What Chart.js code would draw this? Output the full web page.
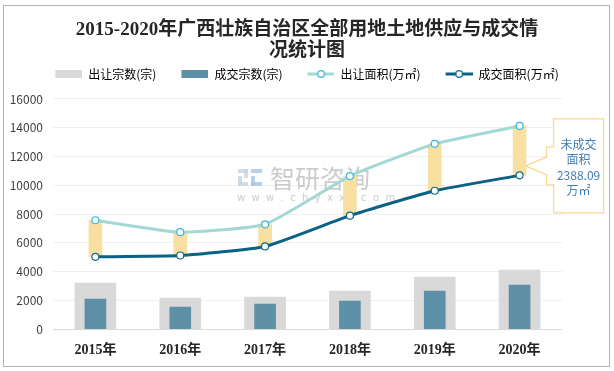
<!DOCTYPE html>
<html>
<head>
<meta charset="utf-8">
<script src="https://cdn.jsdelivr.net/npm/chart.js@4.4.0/dist/chart.umd.min.js"></script>
<style>
	html, body { margin: 0; padding: 0; background: #fff; }
	#wrap { width: 614px; height: 371px; }
</style>
</head>
<body>
<div id="wrap"><canvas id="myChart" width="614" height="371"></canvas></div>
<script>
const years = ["2015年", "2016年", "2017年", "2018年", "2019年", "2020年"]
const supplyCount = [3210, 2170, 2240, 2650, 3620, 4110]     // 出让宗数(宗)
const dealCount = [2100, 1540, 1750, 1960, 2650, 3070]       // 成交宗数(宗)
const supplyArea = [7570, 6740, 7290, 10640, 12880, 14125]   // 出让面积(万㎡)
const dealArea = [5030, 5120, 5750, 7890, 9620, 10690]       // 成交面积(万㎡)
const calloutLines = ["未成交", "面积", "2388.09", "万㎡"]

const cjk = "'Noto Sans CJK SC', 'Noto Sans', sans-serif"
const serif = "'Liberation Serif', 'Noto Sans CJK SC', serif"

// legend swatches: blank lead-in (item spacing), then bar rectangle or line-with-circle
const lead = 19
function swatch(kind, color, pointBorder) {
	const c = document.createElement("canvas")
	c.width = lead + 27
	c.height = 10
	const g = c.getContext("2d")
	if (kind === "bar") {
		g.fillStyle = color
		g.fillRect(lead, 1, 27, 8)
	} else {
		g.strokeStyle = color
		g.lineWidth = 3
		g.beginPath()
		g.moveTo(lead, 5)
		g.lineTo(lead + 27, 5)
		g.stroke()
		g.fillStyle = "#fff"
		g.strokeStyle = pointBorder
		g.lineWidth = 1.2
		g.beginPath()
		g.arc(lead + 13.5, 5, 3.3, 0, Math.PI * 2)
		g.fill()
		g.stroke()
	}
	return c
}

const frame = {
	id: "frame",
	beforeDraw(chart) {
		const ctx = chart.ctx
		ctx.save()
		ctx.strokeStyle = "#b4b4b4"
		ctx.lineWidth = 1
		ctx.strokeRect(3.5, 5.5, 606, 361)
		ctx.restore()
	}
}

// extra room under the legend, and re-centre the row without the first lead-in
const legendGap = {
	id: "legendGap",
	beforeLayout(chart) {
		const lg = chart.legend
		if (lg && !lg._gapPatched) {
			const fit = lg.fit
			lg.fit = function () {
				fit.call(this)
				this.height += 9
				if (this.lineWidths && this.lineWidths.length) this.lineWidths[0] += lead
			}
			lg._gapPatched = true
		}
	}
}

const watermark = {
	id: "watermark",
	beforeDatasetsDraw(chart) {
		const ctx = chart.ctx
		ctx.save()
		ctx.fillStyle = "rgba(200, 212, 225, 0.8)"
		ctx.fillRect(238, 169, 10, 4)
		ctx.fillRect(244, 169, 4, 9)
		ctx.fillRect(238, 176, 4, 10)
		ctx.fillRect(238, 182, 10, 4)
		ctx.fillStyle = "rgba(165, 198, 228, 0.8)"
		ctx.fillRect(251, 169, 11, 4)
		ctx.fillRect(251, 176, 4, 10)
		ctx.fillRect(251, 182, 11, 4)
		ctx.fillStyle = "rgba(175, 175, 175, 0.65)"
		ctx.font = "25px " + cjk
		ctx.textBaseline = "middle"
		ctx.fillText("智研咨询", 270, 178)
		ctx.font = "10px 'DejaVu Sans', sans-serif"
		ctx.fillText("w  w  w  .  c  h  y  x  x  .  c  o  m", 237, 198)
		ctx.restore()
	}
}

const callout = {
	id: "callout",
	afterDatasetsDraw(chart) {
		const xs = chart.scales.x
		const ys = chart.scales.y
		const i = years.length - 1
		const tx = xs.getPixelForValue(i) + 6
		const ty = ys.getPixelForValue(dealArea[i] + (supplyArea[i] - dealArea[i]) * 0.19)
		const left = tx + 28, right = tx + 78
		const ctx = chart.ctx
		ctx.save()
		ctx.beginPath()
		ctx.moveTo(left, ty - 47)
		ctx.lineTo(right, ty - 47)
		ctx.lineTo(right, ty + 47)
		ctx.lineTo(left, ty + 47)
		ctx.lineTo(left, ty + 19)
		ctx.lineTo(tx + 21, ty + 19)
		ctx.lineTo(tx + 21, ty + 9)
		ctx.lineTo(tx, ty)
		ctx.lineTo(tx + 21, ty - 9)
		ctx.lineTo(tx + 21, ty - 19)
		ctx.lineTo(left, ty - 19)
		ctx.closePath()
		ctx.fillStyle = "#fff"
		ctx.fill()
		ctx.strokeStyle = "#fbd98f"
		ctx.lineWidth = 1.3
		ctx.stroke()
		ctx.fillStyle = "#3f7db3"
		ctx.font = "12px " + cjk
		ctx.textAlign = "center"
		ctx.textBaseline = "middle"
		const offs = [-22, -7, 9, 24]
		calloutLines.forEach((t, k) => ctx.fillText(t, (left + right) / 2, ty + offs[k]))
		ctx.restore()
	}
}

new Chart("myChart", {
	type: "bar",
	data: {
		labels: years,
		datasets: [
			{
				label: "出让宗数(宗)",
				data: supplyCount,
				backgroundColor: "#d9d9d9",
				barThickness: 41,
				grouped: false,
				order: 4,
				legendSwatch: swatch("bar", "#d9d9d9")
			},
			{
				label: "成交宗数(宗)",
				data: dealCount,
				backgroundColor: "#5e91a8",
				barThickness: 21,
				grouped: false,
				order: 3,
				legendSwatch: swatch("bar", "#5e91a8")
			},
			{
				type: "line",
				label: "出让面积(万㎡)",
				data: supplyArea,
				borderColor: "#a2d9d4",
				borderWidth: 3,
				tension: 0.15,
				pointRadius: 3.5,
				pointBackgroundColor: "#fff",
				pointBorderColor: "#3ab4e2",
				pointBorderWidth: 1.2,
				order: 1,
				legendSwatch: swatch("line", "#a2d9d4", "#3ab4e2")
			},
			{
				type: "line",
				label: "成交面积(万㎡)",
				data: dealArea,
				borderColor: "#0b6286",
				borderWidth: 3,
				tension: 0.15,
				pointRadius: 3.5,
				pointBackgroundColor: "#fff",
				pointBorderColor: "#11698a",
				pointBorderWidth: 1.2,
				order: 0,
				legendSwatch: swatch("line", "#0b6286", "#11698a")
			},
			{
				label: "gap",
				data: dealArea.map((v, i) => [v, supplyArea[i]]),
				backgroundColor: "#f8e0a2",
				barThickness: 13,
				grouped: false,
				order: 2
			}
		]
	},
	options: {
		responsive: false,
		animation: false,
		layout: { padding: { top: 11, right: 0, bottom: 7, left: 0 } },
		plugins: {
			title: {
				display: true,
				text: ["2015-2020年广西壮族自治区全部用地土地供应与成交情", "况统计图"],
				color: "#262626",
				font: { family: serif, size: 19, weight: "bold", lineHeight: 1.13 },
				padding: { top: 8, bottom: 0 }
			},
			legend: {
				display: true,
				labels: {
					usePointStyle: true,
					pointStyleWidth: lead + 27,
					boxHeight: 10,
					padding: 6,
					color: "#595959",
					font: { family: cjk, size: 12 },
					filter: (item) => item.datasetIndex < 4,
					sort: (a, b) => a.datasetIndex - b.datasetIndex,
					generateLabels(chart) {
						return chart.data.datasets.map((ds, i) => ({
							text: ds.label,
							pointStyle: ds.legendSwatch,
							fillStyle: "#fff",
							strokeStyle: "#fff",
							lineWidth: 0,
							hidden: false,
							datasetIndex: i
						}))
					}
				}
			},
			tooltip: { enabled: false }
		},
		scales: {
			x: {
				grid: { display: false },
				border: { display: false },
				ticks: {
					color: "#262626",
					padding: 5,
					font: { family: serif, size: 14, weight: "bold" }
				}
			},
			y: {
				min: 0,
				max: 16000,
				ticks: {
					stepSize: 2000,
					padding: 10,
					color: "#404040",
					font: { family: cjk, size: 12 },
					callback: (v) => String(v)
				},
				grid: {
					drawTicks: false,
					color: (c) => c.tick && c.tick.value === 0 ? "#d9d9d9" : "#efefef"
				},
				border: { display: false },
				afterFit(scale) { scale.width = 53 }
			},
			// empty right-hand axis that only reserves the margin beside the plot
			yRight: {
				position: "right",
				min: 0,
				max: 16000,
				grid: { display: false },
				border: { display: false },
				ticks: { display: false },
				afterFit(scale) { scale.width = 52 }
			}
		}
	},
	plugins: [frame, legendGap, watermark, callout]
})
</script>
</body>
</html>
